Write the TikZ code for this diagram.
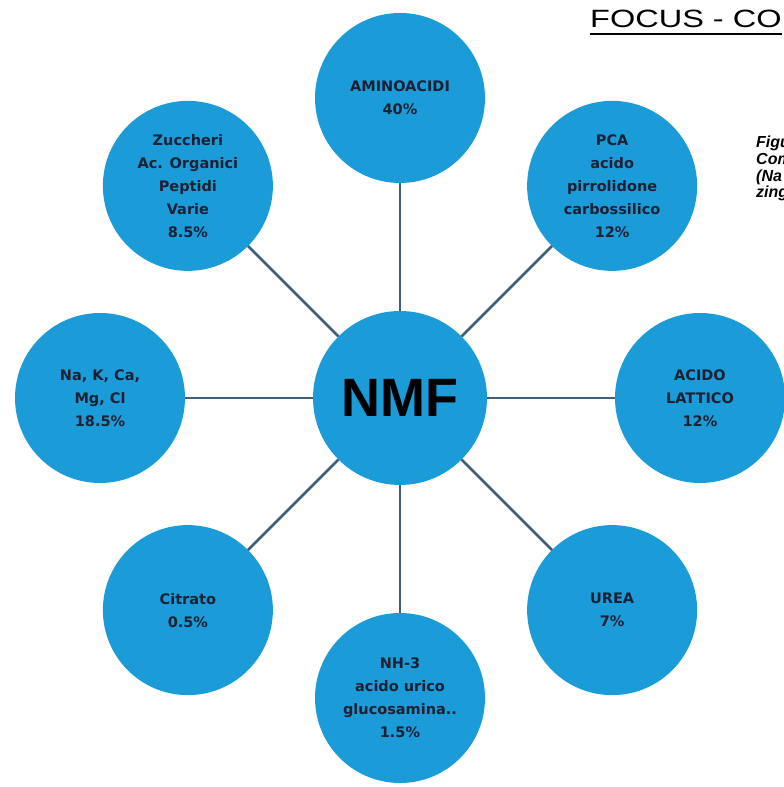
\documentclass[tikz,border=0pt]{standalone}
\usepackage{fontspec}
\setmainfont{DejaVu Sans}
\newfontfamily\arialfont{Liberation Sans}
\newfontfamily\headfont[FakeStretch=1.3]{Liberation Sans}
\usepackage{tikz}
\usetikzlibrary{
  positioning
}
\definecolor{CircleBlue}{HTML}{1B9BD8}
\definecolor{LinkSlate}{HTML}{3F5F78}
\definecolor{TextNavy}{HTML}{1C2033}
\tikzset{
  component/.style={
    circle,
    fill=CircleBlue,
    inner sep=0pt,
    outer sep=0pt,
    minimum size=170pt,
    align=center,
    text=TextNavy,
    font=\bfseries\fontsize{14.5}{23}\selectfont
  },
  hub/.style={
    component,
    minimum size=174pt,
    text=black,
    font=\arialfont\bfseries\fontsize{54}{60}\selectfont
  },
  link/.style={
    draw=LinkSlate,
    line width=2.6pt
  },
  heading/.style={
    anchor=base west,
    inner sep=0pt,
    font=\headfont\fontsize{25}{30}\selectfont
  },
  caption/.style={
    anchor=north west,
    inner sep=0pt,
    align=left,
    font=\arialfont\bfseries\itshape\fontsize{16}{16.7}\selectfont
  }
}

\begin{document}
\begin{tikzpicture}[x=1pt, y=1pt]
  \useasboundingbox (0,0) rectangle (784,787);

  % page header and side caption
  \node[heading] (focus) at (590,759) {FOCUS - CO};
  \draw[line width=2pt]
  ([yshift=-6.5pt]focus.base west) --
  ([yshift=-6.5pt]focus.base east);

  \node[caption] (figcaption) at (756,651) {
    Figu\\
    Com\\
    (Na\\
    zing
  };

  % hub and its components
  \node[hub] (nmf) at (400,389) {NMF};

  \node[
    component,
    above=128pt of nmf
  ] (aminoacidi) {
    AMINOACIDI\\
    40\%
  };

  \node[
    component,
    above right=90.5pt and 90.5pt of nmf
  ] (pca) {
    PCA\\
    acido\\
    pirrolidone\\
    carbossilico\\
    12\%
  };

  \node[
    component,
    right=128pt of nmf
  ] (lattico) {
    ACIDO\\
    LATTICO\\
    12\%
  };

  \node[
    component,
    below right=90.5pt and 90.5pt of nmf
  ] (urea) {
    UREA\\
    7\%
  };

  \node[
    component,
    below=128pt of nmf
  ] (ammoniaca) {
    NH-3\\
    acido urico\\
    glucosamina..\\
    1.5\%
  };

  \node[
    component,
    below left=90.5pt and 90.5pt of nmf
  ] (citrato) {
    Citrato\\
    0.5\%
  };

  \node[
    component,
    left=128pt of nmf
  ] (sali) {
    Na, K, Ca,\\
    Mg, Cl\\
    18.5\%
  };

  \node[
    component,
    above left=90.5pt and 90.5pt of nmf
  ] (zuccheri) {
    Zuccheri\\
    Ac. Organici\\
    Peptidi\\
    Varie\\
    8.5\%
  };

  % spokes
  \draw[link] (nmf) -- (aminoacidi);
  \draw[link] (nmf) -- (pca);
  \draw[link] (nmf) -- (lattico);
  \draw[link] (nmf) -- (urea);
  \draw[link] (nmf) -- (ammoniaca);
  \draw[link] (nmf) -- (citrato);
  \draw[link] (nmf) -- (sali);
  \draw[link] (nmf) -- (zuccheri);

\end{tikzpicture}
\end{document}
